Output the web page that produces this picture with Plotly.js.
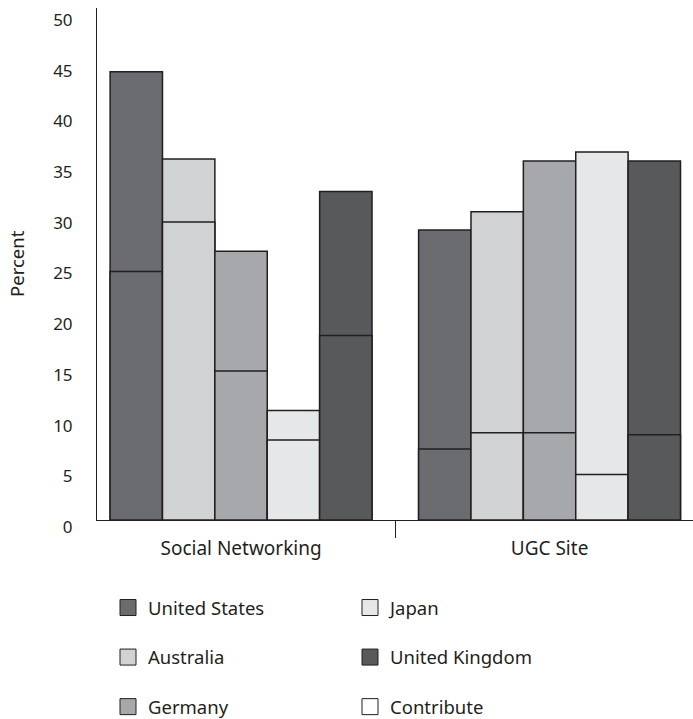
<!DOCTYPE html>
<html>
<head>
<meta charset="utf-8">
<script src="https://cdn.plot.ly/plotly-3.0.1.min.js"></script>
<style>html,body{margin:0;padding:0;background:#fff;}#chart{width:693px;height:719px;}</style>
</head>
<body>
<div id="chart"></div>
<script>
var categories = ['Social Networking', 'UGC Site'];
var countries = ['United States', 'Australia', 'Germany', 'Japan', 'United Kingdom'];
var colors = ['#6b6c70', '#d1d2d4', '#a7a8ab', '#e6e7e8', '#58595b'];
// total percent per country, per category
var totalUS = [44.2, 28.6];
var totalAU = [35.6, 30.4];
var totalDE = [26.5, 35.4];
var totalJP = [10.8, 36.3];
var totalUK = [32.4, 35.4];
// contribute percent per country, per category
var contribUS = [24.5, 7.0];
var contribAU = [29.4, 8.6];
var contribDE = [14.7, 8.6];
var contribJP = [7.9, 4.5];
var contribUK = [18.2, 8.4];
var yTicks = [0, 5, 10, 15, 20, 25, 30, 35, 40, 45, 50];
var yTitle = 'Percent';

var totals = [totalUS, totalAU, totalDE, totalJP, totalUK];
var contribs = [contribUS, contribAU, contribDE, contribJP, contribUK];
var FONT = 'Noto Sans, sans-serif';
var LINE = '#231f20';
var TXT = '#231f20';

var traces = [];
countries.forEach(function(c, i) {
  traces.push({type: 'bar', x: categories, y: totals[i], name: c, offsetgroup: c,
    marker: {color: colors[i], line: {color: LINE, width: 1.5}}, showlegend: false, hoverinfo: 'y+name'});
  traces.push({type: 'bar', x: categories, y: contribs[i], name: c + ' (Contribute)', offsetgroup: c,
    marker: {color: colors[i], line: {color: LINE, width: 1.5}}, showlegend: false, hoverinfo: 'y+name'});
});
// legend entries (two columns)
var legendNames = ['United States', 'Australia', 'Germany', 'Japan', 'United Kingdom', 'Contribute'];
var legendColors = ['#6b6c70', '#d1d2d4', '#a7a8ab', '#e6e7e8', '#58595b', '#ffffff'];
legendNames.forEach(function(n, i) {
  traces.push({type: 'scatter', mode: 'markers', x: [null], y: [null], name: n,
    legend: i < 3 ? 'legend' : 'legend2', legendgroup: n,
    marker: {symbol: 'square', size: 16, color: legendColors[i], line: {color: LINE, width: 1}},
    hoverinfo: 'skip'});
});

var legendBase = {orientation: 'v', xref: 'container', yref: 'container', xanchor: 'left', yanchor: 'top',
  y: (719 - 589) / 719, tracegroupgap: 22.5, font: {family: FONT, size: 18.5, color: TXT},
  bgcolor: 'rgba(0,0,0,0)', itemclick: false};

var layout = {
  width: 693, height: 719,
  margin: {l: 97, r: 0, t: 8, b: 199, autoexpand: false},
  paper_bgcolor: '#fff', plot_bgcolor: '#fff',
  barmode: 'group', bargap: 0.151, bargroupgap: 0,
  font: {family: FONT, size: 17, color: TXT},
  xaxis: {type: 'category', range: [-0.467, 1.465], showline: true, linecolor: LINE, linewidth: 1,
    tickson: 'boundaries', ticks: 'outside', ticklen: 17, tickcolor: LINE, tickwidth: 1, tickangle: 0,
    ticklabelstandoff: 11,
    showgrid: false, zeroline: false, automargin: false, tickfont: {family: FONT, size: 19, color: TXT}},
  yaxis: {range: [0, 50.5], tickvals: yTicks, ticktext: yTicks.map(String), showline: true, linecolor: LINE, linewidth: 1,
    ticks: '', showgrid: false, zeroline: false, ticklabelstandoff: 20, ticklabelshift: 7, automargin: false,
    tickfont: {family: FONT, size: 17, color: TXT}},
  annotations: [{text: yTitle, xref: 'paper', yref: 'paper', x: -81 / 596, y: 0.5, xanchor: 'center', yanchor: 'middle',
    textangle: -90, showarrow: false, font: {family: FONT, size: 18.5, color: TXT}}],
  legend: Object.assign({}, legendBase, {x: 108 / 693}),
  legend2: Object.assign({}, legendBase, {x: 350 / 693}),
  showlegend: true
};

Plotly.newPlot('chart', traces, layout, {displayModeBar: false, staticPlot: true});
</script>
</body>
</html>
